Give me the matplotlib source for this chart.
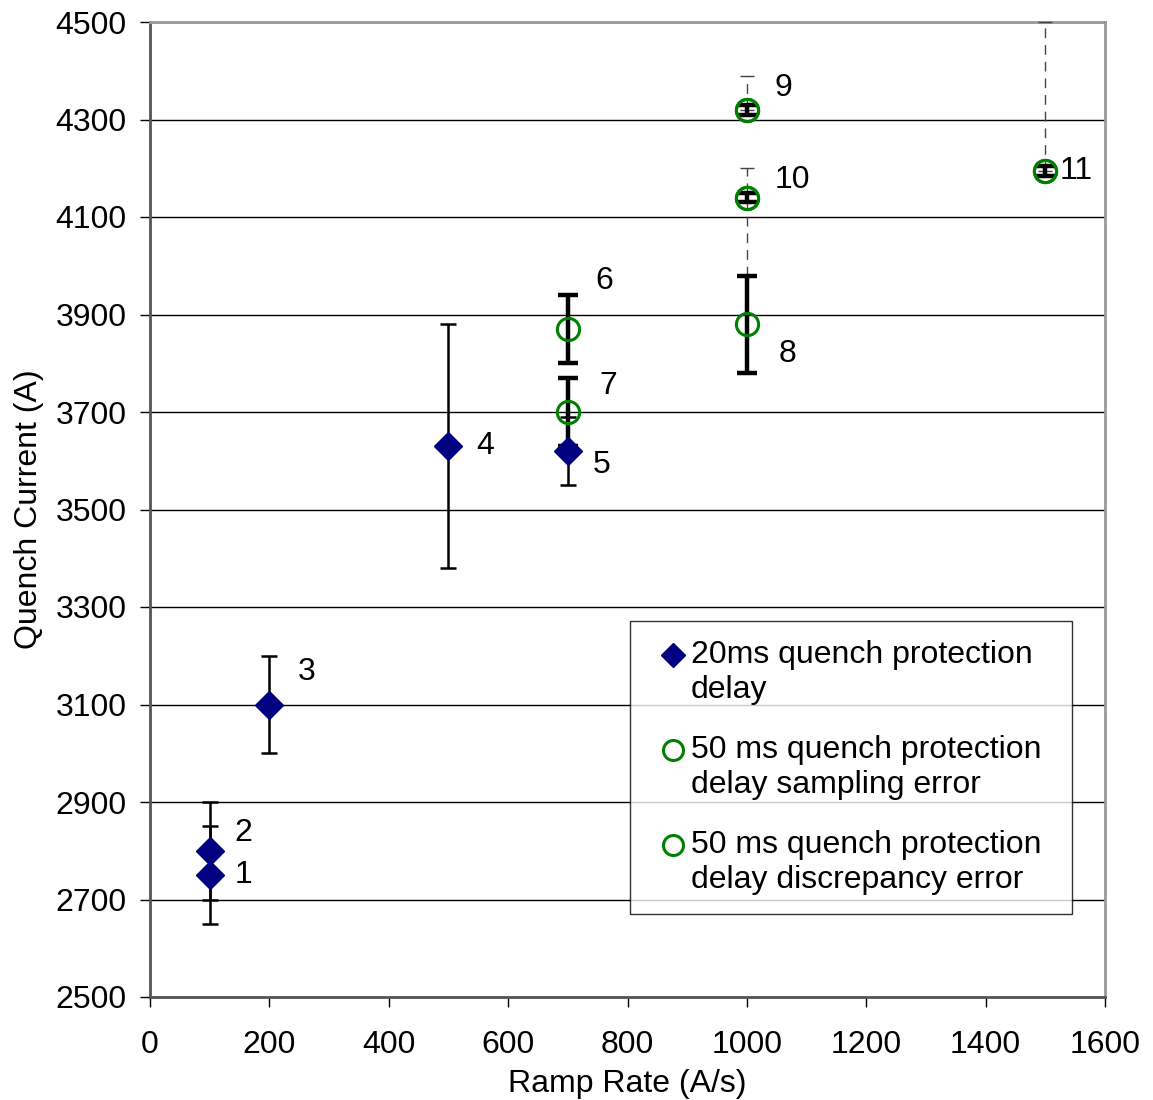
import numpy as np
import matplotlib
matplotlib.use("Agg")
import matplotlib.pyplot as plt
from matplotlib.transforms import Affine2D

plt.rcParams["font.family"] = ["Liberation Sans", "DejaVu Sans"]

# 20 ms quench protection delay (blue diamonds, thin error bars)
rate_20 = [100, 100, 200, 500, 700]
curr_20 = [2750, 2800, 3100, 3630, 3620]
err_20_lo = [100, 100, 100, 250, 70]
err_20_hi = [100, 100, 100, 250, 70]
lab_20 = ["1", "2", "3", "4", "5"]

# 50 ms delay, sampling error (green circles, thick error bars)
rate_50s = [700, 700, 1000, 1000, 1000, 1500]
curr_50s = [3870, 3700, 3880, 4320, 4140, 4195]
err_50s = [70, 70, 100, 10, 10, 10]
lab_50s = ["6", "7", "8", "9", "10", "11"]

# 50 ms delay, discrepancy error (dashed error bars)
rate_50d = [1000, 1000, 1500]
curr_50d = [4320, 4140, 4195]
err_50d_lo = [0, 160, 0]
err_50d_hi = [70, 60, 305]

# label offsets in pixels (dx, dy) for point labels
lab_off = {"1": (25, 0), "2": (25, 18), "3": (28, 33), "4": (28, 0), "5": (25, -14),
           "6": (28, 48), "7": (32, 26), "8": (32, -30), "9": (28, 22), "10": (28, 18),
           "11": (14, 0)}

fig = plt.figure(figsize=(11.53, 11.0), dpi=100)
ax = fig.add_axes([150 / 1153, 1 - 997 / 1100, 955 / 1153, 975 / 1100])

fs = 23
navy = "#000080"
green = "#008000"

e = ax.errorbar(rate_50d, curr_50d, yerr=[err_50d_lo, err_50d_hi], fmt="none",
                ecolor="#444444", elinewidth=1, capsize=5, capthick=1, zorder=3, clip_on=False)
for lc in e[2]:
    lc.set_linestyle((0, (7, 5)))

ax.errorbar(rate_20, curr_20, yerr=[err_20_lo, err_20_hi], fmt="none",
            ecolor="black", elinewidth=1.8, capsize=5.5, capthick=1.8, zorder=3)
ax.errorbar(rate_50s, curr_50s, yerr=err_50s, fmt="none",
            ecolor="black", elinewidth=3.2, capsize=7, capthick=3.2, zorder=3)

ax.plot(rate_20, curr_20, "D", color=navy, ms=14, mec=navy, zorder=5,
        label="20ms quench protection\ndelay")
ax.plot(rate_50s, curr_50s, "o", color=green, ms=16, mfc="none", mew=2.2, zorder=5,
        label="50 ms quench protection\ndelay sampling error")
ax.plot(rate_50d, curr_50d, "o", color=green, ms=16, mfc="none", mew=2.2, zorder=5,
        label="50 ms quench protection\ndelay discrepancy error")

for x, y, t in list(zip(rate_20, curr_20, lab_20)) + list(zip(rate_50s, curr_50s, lab_50s)):
    dx, dy = lab_off[t]
    ax.annotate(t, (x, y), xytext=(dx * 0.72, dy * 0.72), textcoords="offset points",
                ha="left", va="center", fontsize=fs, zorder=6)

ax.set_xlim(0, 1600)
ax.set_ylim(2500, 4500)
ax.set_xticks(np.arange(0, 1601, 200))
ax.set_yticks(np.arange(2500, 4501, 200))
ax.yaxis.grid(True, color="black", linewidth=1)
ax.set_axisbelow(True)
ax.tick_params(labelsize=fs, length=7, width=1, direction="out")
ax.tick_params(axis="y", pad=10)
ax.tick_params(axis="x", pad=17)
for s in ["left", "bottom"]:
    ax.spines[s].set_color("#555555")
    ax.spines[s].set_linewidth(2)
for s in ["top", "right"]:
    ax.spines[s].set_color("#999999")
    ax.spines[s].set_linewidth(2)

ax.set_xlabel("Ramp Rate (A/s)", fontsize=fs, labelpad=6)
ax.set_ylabel("Quench Current (A)", fontsize=fs, labelpad=8)

leg = ax.legend(loc="lower left", bbox_to_anchor=(630 / 1153, 1 - 914 / 1100, 442 / 1153, 0.2),
                bbox_transform=fig.transFigure, mode="expand", fontsize=fs, frameon=True,
                fancybox=False, edgecolor="black", handlelength=1.5, handletextpad=-0.2,
                labelspacing=0.95, borderpad=0.6, borderaxespad=0, markerscale=0.9)
leg.get_frame().set_linewidth(1)
# put legend markers next to the first text line, like the original
for h in leg.legend_handles:
    h.set_transform(h.get_transform() + Affine2D().translate(0, 18))

fig.savefig("out.png", dpi=100)
